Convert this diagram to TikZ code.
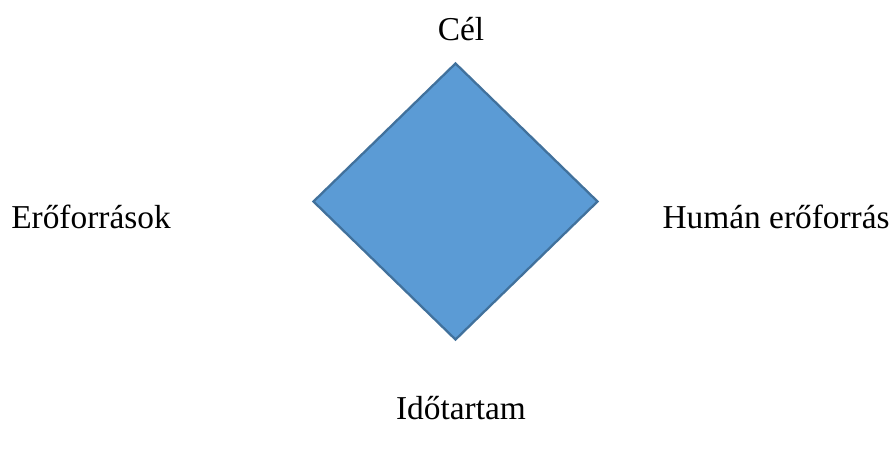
\documentclass[tikz,border=0pt]{standalone}
\usepackage{fontspec}
\setmainfont{Liberation Serif}
\usetikzlibrary{shapes.geometric, positioning}
\definecolor{romboid}{HTML}{5B9BD5}
\definecolor{romboidline}{HTML}{41719C}

\begin{document}
\begin{tikzpicture}[x=0.02cm, y=-0.02cm,
    label/.style={font=\fontsize{19pt}{23pt}\selectfont, inner sep=0pt, anchor=base},
    rombusz/.style={diamond, draw=romboidline, fill=romboid, line width=1.3pt,
        inner sep=0pt, minimum width=285*0.02cm, minimum height=277*0.02cm}]
    \useasboundingbox (0,0) rectangle (892,451);
    % Diamond
    \node[rombusz] (rombusz) at (455.5,201.5) {};
    % Labels
    \node[label] (cel) at (461,40) {Cél};
    \node[label] (ero) at (91,228) {Erőforrások};
    \node[label, anchor=base east] (human) at (890,228) {Humán erőforrás};
    \node[label] (ido) at (461,419) {Időtartam};
\end{tikzpicture}
\end{document}
